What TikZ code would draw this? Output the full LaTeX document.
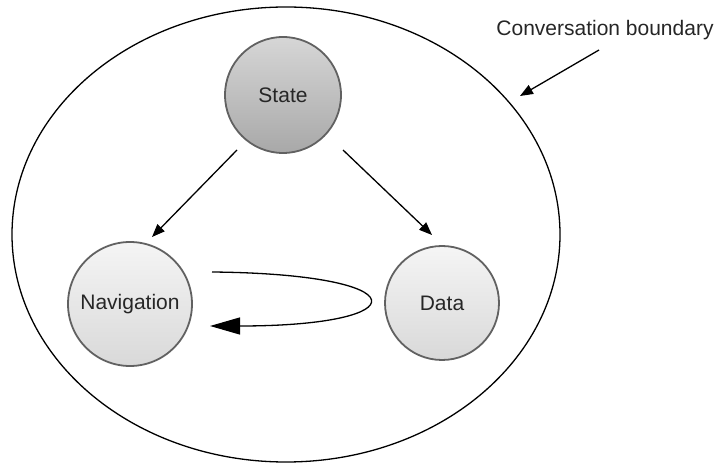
\documentclass[tikz,border=0pt]{standalone}
\usepackage{fontspec}
\setmainfont{Liberation Sans}
\usetikzlibrary{arrows.meta,calc}
\begin{document}
\begin{tikzpicture}[x=1pt,y=1pt,
  every node/.style={text=black!85},
  bubble/.style={circle,draw=black!62,line width=1.8pt,inner sep=0pt,
    font=\fontsize{21}{25}\selectfont},
  darkbubble/.style={bubble,top color=black!16,bottom color=black!34},
  lightbubble/.style={bubble,top color=black!4,bottom color=black!15},
  flow/.style={line width=1.3pt,-{Triangle[length=13pt,width=10pt]}},
  bigflow/.style={line width=1.3pt,-{Triangle[length=30pt,width=17pt]}}]
  \useasboundingbox (0,0) rectangle (717,463);

  % conversation boundary
  \draw[line width=1.3pt] (286,228.5) ellipse [x radius=274, y radius=227.5];
  \node[font=\fontsize{21}{25}\selectfont] (label) at (605,433) {Conversation boundary};
  \coordinate (bs) at (599,413);
  \coordinate (be) at (520,367);
  \draw[flow] (bs) -- (be);

  % the three parts of a conversation
  \node[darkbubble,minimum size=116pt] (state) at (283,368) {State};
  \node[lightbubble,minimum size=124pt] (nav) at (130,159) {Navigation};
  \node[lightbubble,minimum size=114pt] (data) at (442,160) {Data};

  \coordinate (s1) at (237,313);
  \coordinate (n1) at (152,226);
  \coordinate (s2) at (343,313);
  \coordinate (d1) at (432,228);
  \draw[flow] (s1) -- (n1);
  \draw[flow] (s2) -- (d1);

  % navigation loop
  \coordinate (ls) at (212,191);
  \coordinate (le) at (210,137);
  \draw[bigflow] (ls) .. controls (420,189) and (420,137) .. (le);
\end{tikzpicture}
\end{document}
